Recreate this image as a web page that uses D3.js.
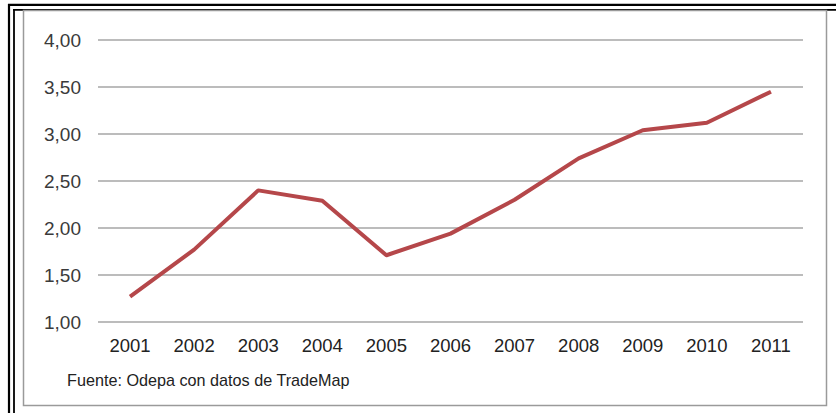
<!DOCTYPE html>
<html>
<head>
<meta charset="utf-8">
<script src="https://cdn.jsdelivr.net/npm/d3@7"></script>
<style>
  body { margin: 0; background: #fff; }
  svg { display: block; }
</style>
</head>
<body>
<script>
var years = ["2001","2002","2003","2004","2005","2006","2007","2008","2009","2010","2011"];
var values = [1.27, 1.77, 2.40, 2.29, 1.71, 1.94, 2.30, 2.74, 3.04, 3.12, 3.45];
var yTicks = [1.00, 1.50, 2.00, 2.50, 3.00, 3.50, 4.00];
var source = "Fuente: Odepa con datos de TradeMap";

var W = 836, H = 413;
var svg = d3.select("body").append("svg").attr("width", W).attr("height", H);

// outer double black border (cropped at right / bottom)
svg.append("line").attr("x1", 8).attr("y1", 4.8).attr("x2", W).attr("y2", 4.8)
    .attr("stroke", "#000").attr("stroke-width", 2.2);
svg.append("line").attr("x1", 13).attr("y1", 9.8).attr("x2", W).attr("y2", 9.8)
    .attr("stroke", "#000").attr("stroke-width", 1.8);
svg.append("line").attr("x1", 9).attr("y1", 4).attr("x2", 9).attr("y2", H)
    .attr("stroke", "#000").attr("stroke-width", 2.2);
svg.append("line").attr("x1", 14).attr("y1", 9).attr("x2", 14).attr("y2", H)
    .attr("stroke", "#000").attr("stroke-width", 1.8);

// grey chart frame
svg.append("rect").attr("x", 23.5).attr("y", 10.5).attr("width", 803).attr("height", 395)
    .attr("fill", "none").attr("stroke", "#9a9a9a").attr("stroke-width", 1.5);

var x = d3.scalePoint().domain(years).range([98, 803]).padding(0.5);
var y = d3.scaleLinear().domain([1, 4]).range([322, 40]);

// gridlines
svg.append("g").selectAll("line")
    .data(yTicks)
    .enter().append("line")
        .attr("x1", 98).attr("x2", 803)
        .attr("y1", function (d) { return y(d); })
        .attr("y2", function (d) { return y(d); })
        .attr("stroke", "#a6a6a6").attr("stroke-width", 1.5);

// y labels
svg.append("g").selectAll("text")
    .data(yTicks)
    .enter().append("text")
        .attr("x", 81)
        .attr("y", function (d) { return y(d); })
        .attr("dy", "0.36em")
        .attr("text-anchor", "end")
        .attr("font-family", "Liberation Sans, Arial, sans-serif")
        .attr("font-size", 19)
        .attr("fill", "#3a3a3a")
        .text(function (d) { return d.toFixed(2).replace(".", ","); });

// x labels
svg.append("g").selectAll("text")
    .data(years)
    .enter().append("text")
        .attr("x", function (d) { return x(d); })
        .attr("y", 352)
        .attr("text-anchor", "middle")
        .attr("font-family", "Liberation Sans, Arial, sans-serif")
        .attr("font-size", 18.5)
        .attr("fill", "#222")
        .text(function (d) { return d; });

// line
var line = d3.line()
    .x(function (d, i) { return x(years[i]); })
    .y(function (d) { return y(d); });

svg.append("path")
    .datum(values)
    .attr("d", line)
    .attr("fill", "none")
    .attr("stroke", "#b5474a")
    .attr("stroke-width", 4)
    .attr("stroke-linejoin", "round");

// source note
svg.append("text")
    .attr("x", 67).attr("y", 386)
    .attr("font-family", "Liberation Sans, Arial, sans-serif")
    .attr("font-size", 16.2)
    .attr("fill", "#222")
    .text(source);
</script>
</body>
</html>
